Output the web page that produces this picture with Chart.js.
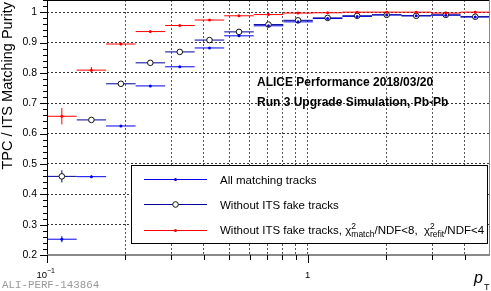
<!DOCTYPE html>
<html>
<head>
<meta charset="utf-8">
<script src="https://cdn.jsdelivr.net/npm/chart.js@4.4.0/dist/chart.umd.min.js"></script>
<style>
  html, body { margin: 0; padding: 0; background: #fff; }
  canvas { display: block; }
</style>
</head>
<body>
<canvas id="purity-chart" width="491" height="291"></canvas>
<script>
/*=======================================
 Data - 15 log bins in pT from 0.1 to 5
========================================*/
const binEdges = [0.1, 0.13, 0.1685, 0.2187, 0.2839, 0.3685, 0.4783, 0.6209, 0.8059,
                  1.046, 1.358, 1.763, 2.288, 2.970, 3.855, 5.0];
const ptCenters = [0.114, 0.148, 0.192, 0.249, 0.323, 0.420, 0.545, 0.707, 0.918,
                   1.192, 1.547, 2.008, 2.607, 3.384, 4.39];

// All matching tracks
const allTracks = [0.252, 0.458, 0.625, 0.757, 0.820, 0.882, 0.922, 0.955, 0.968,
                   0.979, 0.986, 0.991, 0.988, 0.990, 0.984];
const allTracksErr = [0.010, 0.004, 0.003, 0.003, 0.003, 0.002, 0.002, 0.002, 0.002,
                      0.002, 0.002, 0.002, 0.002, 0.003, 0.004];

// Without ITS fake tracks
const noFake = [0.459, 0.645, 0.764, 0.833, 0.869, 0.908, 0.935, 0.959, 0.973,
                0.981, 0.988, 0.991, 0.988, 0.991, 0.985];
const noFakeErr = [0.020, 0.006, 0.003, 0.003, 0.003, 0.002, 0.002, 0.002, 0.002,
                   0.002, 0.002, 0.003, 0.003, 0.004, 0.008];

// Without ITS fake tracks + chi2 cuts
const noFakeChi2 = [0.657, 0.809, 0.895, 0.936, 0.956, 0.974, 0.988, 0.992, 0.997,
                    0.998, 1.000, 1.000, 1.000, 0.997, 1.000];
const noFakeChi2Err = [0.027, 0.010, 0.004, 0.003, 0.002, 0.002, 0.002, 0.002, 0.002,
                       0.002, 0.002, 0.002, 0.003, 0.003, 0.004];

// axis ticks
const yTickValues = [0.2, 0.3, 0.4, 0.5, 0.6, 0.7, 0.8, 0.9, 1.0];
const xGridValues = [0.1, 0.2, 0.3, 0.4, 0.5, 0.6, 0.7, 0.8, 0.9, 1, 2, 3, 4, 5];

const seriesLabels = ['All matching tracks', 'Without ITS fake tracks', 'Without ITS fake tracks'];
const blue = '#0000ee';
const navy = '#000099';
const red = '#ff0000';

const FONT = '"Liberation Sans", Arial, Helvetica, sans-serif';

function toPoints(values) {
   return ptCenters.map((x, i) => ({ x: x, y: values[i] }));
}

// keep the plot frame where it is, no room kept for half tick labels
function noPadding(s) {
   s.paddingTop = 0;
   s.paddingBottom = 0;
   s.paddingLeft = 0;
   s.paddingRight = 0;
}

/*=======================================
 Error bars (bin width + stat error)
========================================*/
const errorBars = {
   id: 'errorBars',
   beforeDatasetsDraw(chart) {
      const ctx = chart.ctx;
      const xs = chart.scales.x;
      const ys = chart.scales.y;
      chart.data.datasets.forEach(ds => {
         ctx.save();
         ctx.strokeStyle = ds.barColor;
         ctx.lineWidth = 1;
         ds.data.forEach((p, i) => {
            const x0 = xs.getPixelForValue(binEdges[i]);
            const x1 = xs.getPixelForValue(binEdges[i + 1]);
            const xc = xs.getPixelForValue(p.x);
            const yc = ys.getPixelForValue(p.y);
            const e = ds.errors[i];
            ctx.beginPath();
            ctx.moveTo(x0, yc);
            ctx.lineTo(x1, yc);
            ctx.moveTo(xc, ys.getPixelForValue(p.y - e));
            ctx.lineTo(xc, ys.getPixelForValue(Math.min(p.y + e, 1.04)));
            ctx.stroke();
         });
         ctx.restore();
      });
   }
};

/*=======================================
 Frame, ticks, labels, legend
========================================*/
function drawMarker(ctx, style, x, y) {
   ctx.beginPath();
   if (style === 'open') {
      ctx.arc(x, y, 2.8, 0, Math.PI * 2);
      ctx.fillStyle = '#fff';
      ctx.fill();
      ctx.strokeStyle = '#111';
      ctx.lineWidth = 1;
      ctx.stroke();
   } else {
      ctx.arc(x, y, 1.5, 0, Math.PI * 2);
      ctx.fillStyle = style;
      ctx.fill();
   }
}

const rootFrame = {
   id: 'rootFrame',
   beforeDraw(chart) {
      const ctx = chart.ctx;
      ctx.save();
      ctx.fillStyle = '#fff';
      ctx.fillRect(0, 0, chart.width, chart.height);
      ctx.restore();
   },
   afterDraw(chart) {
      const ctx = chart.ctx;
      const a = chart.chartArea;
      const xs = chart.scales.x;
      const ys = chart.scales.y;
      ctx.save();

      // legend box (covers the grid)
      ctx.fillStyle = '#fff';
      ctx.fillRect(131.5, 165.5, 356, 78);
      ctx.strokeStyle = '#000';
      ctx.lineWidth = 1;
      ctx.strokeRect(131.5, 165.5, 356, 78);

      const rows = [179.5, 204.5, 230.5];
      const lineCols = [blue, navy, red];
      const markers = [blue, 'open', red];
      rows.forEach((y, i) => {
         ctx.strokeStyle = lineCols[i];
         ctx.lineWidth = 1;
         ctx.beginPath();
         ctx.moveTo(144, y);
         ctx.lineTo(207, y);
         ctx.stroke();
         drawMarker(ctx, markers[i], 175.5, y);
      });

      ctx.fillStyle = '#000';
      ctx.textBaseline = 'alphabetic';
      ctx.textAlign = 'left';
      ctx.font = '11.5px ' + FONT;
      ctx.fillText(seriesLabels[0], 220, 183.5);
      ctx.fillText(seriesLabels[1], 220, 208.5);

      // third entry with chi2 sub/superscripts
      let tx = 220;
      const by = 234;
      const part = (t, f, dy) => {
         ctx.font = f;
         ctx.fillText(t, tx, by + dy);
         return ctx.measureText(t).width;
      };
      const small = '8.5px ' + FONT;
      const norm = '11.5px ' + FONT;
      tx += part(seriesLabels[2] + ', \u03c7', norm, 0);
      let w1 = part('2', small, -5);
      let w2 = part('match', small, 3);
      tx += Math.max(w1, w2);
      tx += part('/NDF<8,  \u03c7', norm, 0);
      w1 = part('2', small, -5);
      w2 = part('refit', small, 3);
      tx += Math.max(w1, w2);
      part('/NDF<4', norm, 0);

      // ALICE labels
      ctx.font = 'bold 12px ' + FONT;
      ctx.fillText('ALICE Performance 2018/03/20', 257, 85.5);
      ctx.fillText('Run 3 Upgrade Simulation, Pb-Pb', 257, 106);

      // frame
      ctx.strokeStyle = '#000';
      ctx.lineWidth = 1;
      ctx.beginPath();
      ctx.moveTo(a.left + 0.5, a.top);
      ctx.lineTo(a.left + 0.5, a.bottom + 7);
      ctx.moveTo(a.left, a.top + 0.5);
      ctx.lineTo(a.right, a.top + 0.5);
      ctx.stroke();
      ctx.strokeStyle = '#888';
      ctx.beginPath();
      ctx.moveTo(a.right - 0.5, a.top);
      ctx.lineTo(a.right - 0.5, a.bottom);
      ctx.stroke();
      ctx.lineWidth = 2;
      ctx.beginPath();
      ctx.moveTo(a.left, a.bottom);
      ctx.lineTo(a.right, a.bottom);
      ctx.stroke();

      // y ticks: major every 0.1, minor every 0.02
      ctx.strokeStyle = '#000';
      ctx.lineWidth = 1;
      ctx.beginPath();
      for (let k = 10; k <= 52; k++) {
         const v = k / 50;
         const py = Math.round(ys.getPixelForValue(v)) + 0.5;
         const len = (k % 5 === 0) ? 7 : 4;
         ctx.moveTo(a.left, py);
         ctx.lineTo(a.left - len, py);
      }
      ctx.stroke();

      // x ticks below the axis
      ctx.beginPath();
      xGridValues.forEach(v => {
         if (v >= 5) return;
         const px = Math.round(xs.getPixelForValue(v)) + 0.5;
         const len = (v === 1 || v === 0.1) ? 8 : 5;
         ctx.moveTo(px, a.bottom);
         ctx.lineTo(px, a.bottom + len);
      });
      ctx.stroke();

      // x tick labels
      ctx.fillStyle = '#000';
      ctx.font = '9.5px ' + FONT;
      ctx.textAlign = 'center';
      ctx.fillText('1', xs.getPixelForValue(1), 277.5);
      ctx.textAlign = 'right';
      ctx.fillText('10', a.left, 277.5);
      ctx.textAlign = 'left';
      ctx.font = '7px ' + FONT;
      ctx.fillText('\u22121', a.left, 273);

      // x title
      ctx.font = 'italic 16px ' + FONT;
      ctx.fillText('p', 474, 283);
      ctx.font = '9px ' + FONT;
      ctx.fillText('T', 484, 290);

      // y title
      ctx.save();
      ctx.translate(12, 2);
      ctx.rotate(-Math.PI / 2);
      ctx.textAlign = 'right';
      ctx.font = '14.5px ' + FONT;
      ctx.fillText('TPC / ITS Matching Purity', 0, 0);
      ctx.restore();

      // figure id
      ctx.fillStyle = '#999';
      ctx.font = '10.8px "Liberation Mono", "Courier New", monospace';
      ctx.textAlign = 'left';
      ctx.fillText('ALI-PERF-143864', 2, 287.5);

      ctx.restore();
   }
};

/*=======================================
 Chart
========================================*/
const ctx = document.getElementById('purity-chart');

const purityChart = new Chart(ctx, {
   type: 'scatter',
   data: {
      datasets: [
         {
            label: seriesLabels[2],
            data: toPoints(noFakeChi2),
            errors: noFakeChi2Err,
            barColor: red,
            pointStyle: 'circle',
            pointRadius: 1.5,
            pointBackgroundColor: red,
            pointBorderWidth: 0
         },
         {
            label: seriesLabels[0],
            data: toPoints(allTracks),
            errors: allTracksErr,
            barColor: blue,
            pointStyle: 'circle',
            pointRadius: 1.5,
            pointBackgroundColor: blue,
            pointBorderWidth: 0
         },
         {
            label: seriesLabels[1],
            data: toPoints(noFake),
            errors: noFakeErr,
            barColor: navy,
            pointStyle: 'circle',
            pointRadius: 2.8,
            pointBackgroundColor: '#ffffff',
            pointBorderColor: '#111111',
            pointBorderWidth: 1
         }
      ]
   },
   options: {
      responsive: false,
      animation: false,
      devicePixelRatio: 1,
      layout: { autoPadding: false, padding: { left: 0, right: 1, top: 0, bottom: 0 } },
      plugins: {
         legend: { display: false },
         tooltip: { enabled: false }
      },
      scales: {
         x: {
            type: 'logarithmic',
            min: 0.1,
            max: 5,
            afterBuildTicks: s => {
               s.ticks = xGridValues.map(v => ({ value: v }));
            },
            afterFit: s => { s.height = 36; noPadding(s); },
            ticks: { display: false },
            grid: {
               drawTicks: false,
               lineWidth: 1,
               color: c => (c.tick && (c.tick.value <= 0.1 || c.tick.value >= 5)) ? 'rgba(0,0,0,0)' : '#555'
            },
            border: { display: false, dash: [2, 2] }
         },
         y: {
            min: 0.2,
            max: 1.04,
            afterBuildTicks: s => {
               s.ticks = yTickValues.map(v => ({ value: v }));
            },
            afterFit: s => { s.width = 47; noPadding(s); },
            ticks: {
               padding: 10,
               color: '#000',
               font: { family: FONT, size: 10.5 },
               callback: v => (Math.abs(v - 1) < 1e-9 ? '1' : v.toFixed(1))
            },
            grid: {
               drawTicks: false,
               lineWidth: 1,
               color: c => (c.tick && c.tick.value <= 0.2 + 1e-9) ? 'rgba(0,0,0,0)' : '#333'
            },
            border: { display: false, dash: [2, 2] }
         }
      }
   },
   plugins: [errorBars, rootFrame]
});
</script>
</body>
</html>
